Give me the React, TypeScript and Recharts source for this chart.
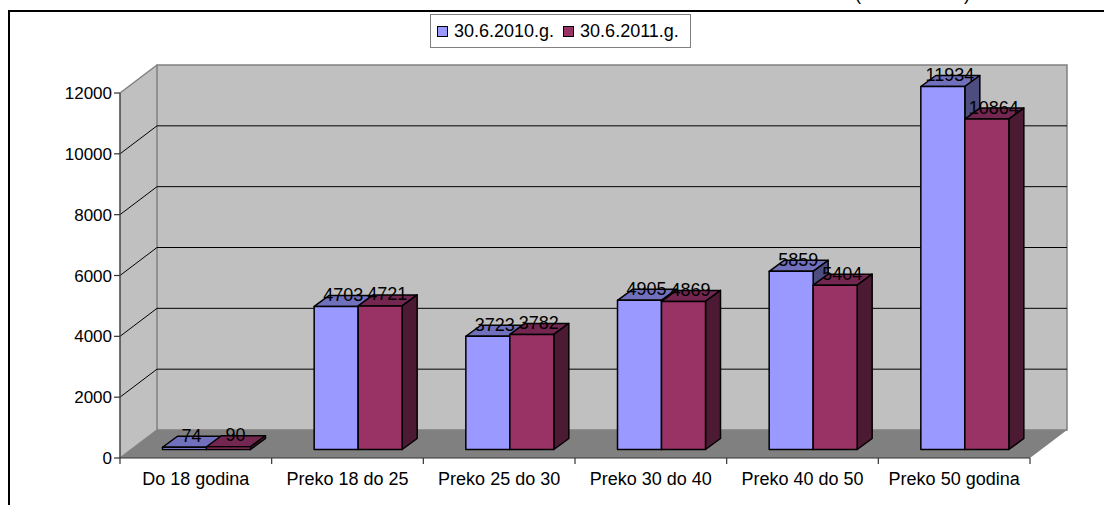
import { BarChart, Bar, XAxis, YAxis, CartesianGrid, LabelList, Legend } from "recharts";

const categories = [
  "Do 18 godina",
  "Preko 18 do 25",
  "Preko 25 do 30",
  "Preko 30 do 40",
  "Preko 40 do 50",
  "Preko 50 godina",
];
const values2010 = [74, 4703, 3723, 4905, 5859, 11934];
const values2011 = [90, 4721, 3782, 4869, 5404, 10864];
const yTicks = [0, 2000, 4000, 6000, 8000, 10000, 12000];

const data = categories.map((name, i) => ({
  name,
  y2010: values2010[i],
  y2011: values2011[i],
}));

const FONT = "'Liberation Sans', Arial, sans-serif";
const FONT_SIZE = 18;
const LEFT = 120;
const RIGHT = 1030;
const TOP = 93;
const BOTTOM = 458;
const WALL_DX = 37;
const WALL_DY = -28;
const BAR_DX = 10.5;
const BAR_DY = -8.5;
const BAR_DEPTH_X = 15;
const BAR_DEPTH_Y = -11;
const BAR_SIZE = 44;
const LEGEND_HEIGHT = 34;
const CATEGORY_WIDTH = (RIGHT - LEFT) / categories.length;

function Bar3D(props: any) {
  const { x, y, width, height, fill, topFill, sideFill } = props;
  const l = x + BAR_DX;
  const r = l + width;
  const t = y + BAR_DY;
  const b = t + height;
  const dx = BAR_DEPTH_X;
  const dy = BAR_DEPTH_Y;
  const line = { stroke: "#000", strokeWidth: 1.5, strokeLinejoin: "round" as const };
  return (
    <g>
      <polygon points={`${l},${t} ${l + dx},${t + dy} ${r + dx},${t + dy} ${r},${t}`} fill={topFill} {...line} />
      <polygon points={`${r},${t} ${r + dx},${t + dy} ${r + dx},${b + dy} ${r},${b}`} fill={sideFill} {...line} />
      <rect x={l} y={t} width={width} height={height} fill={fill} {...line} />
    </g>
  );
}

function BarValue(props: any) {
  const { x, width, y, value } = props;
  return (
    <text
      x={x + width / 2 + BAR_DX + 7}
      y={y + BAR_DY - 5.5}
      textAnchor="middle"
      fontFamily={FONT}
      fontSize={FONT_SIZE}
      fill="#000"
    >
      {value}
    </text>
  );
}

function GridLine(props: any) {
  const { x1, x2, y1, y2 } = props;
  const edge = y1 <= TOP + 1 || y1 >= BOTTOM - 1;
  if (edge) {
    return (
      <polyline
        points={`${x1},${y1} ${x1 + WALL_DX},${y1 + WALL_DY}`}
        fill="none"
        stroke="#808080"
        strokeWidth={1.5}
      />
    );
  }
  return (
    <polyline
      points={`${x1},${y1} ${x1 + WALL_DX},${y1 + WALL_DY} ${x2 + WALL_DX},${y2 + WALL_DY}`}
      fill="none"
      stroke="#000"
      strokeWidth={1}
    />
  );
}

function CategoryTick(props: any) {
  const { x, y, payload, index } = props;
  const left = x - CATEGORY_WIDTH / 2;
  return (
    <g>
      <line x1={left} y1={BOTTOM} x2={left} y2={BOTTOM + 6} stroke="#333" strokeWidth={1.2} />
      {index === categories.length - 1 && (
        <line x1={x + CATEGORY_WIDTH / 2} y1={BOTTOM} x2={x + CATEGORY_WIDTH / 2} y2={BOTTOM + 6} stroke="#333" strokeWidth={1.2} />
      )}
      <text x={x} y={y + 19} textAnchor="middle" fontFamily={FONT} fontSize={FONT_SIZE} fill="#000">
        {payload.value}
      </text>
    </g>
  );
}

function LegendBox({ payload }: any) {
  return (
    <div
      style={{
        boxSizing: "border-box",
        width: 261,
        height: LEGEND_HEIGHT,
        border: "1px solid #808080",
        borderRightWidth: 1.5,
        borderBottomWidth: 1.5,
        background: "#fff",
        display: "flex",
        alignItems: "center",
        paddingLeft: 6,
        fontFamily: FONT,
        fontSize: FONT_SIZE,
        color: "#000",
      }}
    >
      {(payload ?? []).map((entry: any) => (
        <span key={entry.value} style={{ display: "flex", alignItems: "center", marginRight: 9 }}>
          <span
            style={{
              boxSizing: "border-box",
              width: 11,
              height: 11,
              marginRight: 6,
              border: "1px solid #000",
              background: entry.color,
            }}
          />
          {entry.value}
        </span>
      ))}
    </div>
  );
}

// walls, floor and page frame sit in their own svg behind the transparent chart
function Backdrop() {
  return (
    <svg width={1104} height={505} style={{ position: "absolute", left: 0, top: 0 }}>
      <text x={855} y={0} fontFamily={FONT} fontSize={FONT_SIZE} fill="#000">(</text>
      <text x={964} y={0} fontFamily={FONT} fontSize={FONT_SIZE} fill="#000">)</text>
      <polyline points="1104,11 9,11 9,505" fill="none" stroke="#000" strokeWidth={2} />
      <polygon
        points={`${LEFT},${TOP} ${LEFT + WALL_DX},${TOP + WALL_DY} ${LEFT + WALL_DX},${BOTTOM + WALL_DY} ${LEFT},${BOTTOM}`}
        fill="#c0c0c0"
      />
      <rect
        x={LEFT + WALL_DX}
        y={TOP + WALL_DY}
        width={RIGHT - LEFT}
        height={BOTTOM - TOP}
        fill="#c0c0c0"
        stroke="#808080"
        strokeWidth={1.5}
      />
      <polygon
        points={`${LEFT},${BOTTOM} ${LEFT + WALL_DX},${BOTTOM + WALL_DY} ${RIGHT + WALL_DX},${BOTTOM + WALL_DY} ${RIGHT},${BOTTOM}`}
        fill="#808080"
      />
    </svg>
  );
}

export default function App() {
  return (
    <div style={{ position: "absolute", left: 0, top: 0, width: 1104, height: 505, overflow: "hidden", background: "#fff" }}>
      <Backdrop />
      <div style={{ position: "absolute", left: 0, top: 0 }}>
        <BarChart
          width={1104}
          height={505}
          data={data}
          barSize={BAR_SIZE}
          barGap={0}
          margin={{ top: TOP - LEGEND_HEIGHT, right: 1104 - RIGHT, bottom: 0, left: 20 }}
        >
          <CartesianGrid vertical={false} horizontal={(p: any) => <GridLine {...p} key={p.index} />} />

          <XAxis
            dataKey="name"
            axisLine={{ stroke: "#333", strokeWidth: 1.2 }}
            tickLine={false}
            tick={<CategoryTick />}
            interval={0}
            height={505 - BOTTOM}
          />
          <YAxis
            domain={[0, 12000]}
            ticks={yTicks}
            width={100}
            axisLine={{ stroke: "#444", strokeWidth: 1.5 }}
            tickLine={{ stroke: "#333", strokeWidth: 1.2 }}
            tickSize={6}
            tick={{ fill: "#000", fontSize: 17, fontFamily: FONT }}
          />
          <Legend
            verticalAlign="top"
            content={<LegendBox />}
            wrapperStyle={{ position: "absolute", left: 430, top: 14, width: 261, height: LEGEND_HEIGHT }}
          />

          <Bar
            dataKey="y2010"
            name="30.6.2010.g."
            fill="#9999ff"
            isAnimationActive={false}
            shape={<Bar3D topFill="#7070bc" sideFill="#4d4d80" />}
          >
            <LabelList dataKey="y2010" content={<BarValue />} />
          </Bar>
          <Bar
            dataKey="y2011"
            name="30.6.2011.g."
            fill="#993366"
            isAnimationActive={false}
            shape={<Bar3D topFill="#732650" sideFill="#4d1a33" />}
          >
            <LabelList dataKey="y2011" content={<BarValue />} />
          </Bar>
        </BarChart>
      </div>
    </div>
  );
}
